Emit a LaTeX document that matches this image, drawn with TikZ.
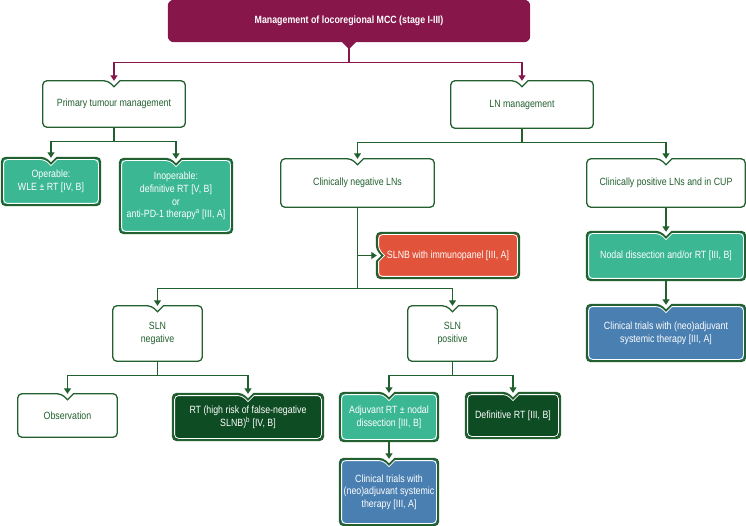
\documentclass[tikz,border=0pt]{standalone}
\usepackage{fontspec}
\setmainfont[FakeStretch=0.84]{Liberation Sans}
\usepackage{tikz}
\usetikzlibrary{backgrounds}
\usetikzlibrary{calc}
\usetikzlibrary{arrows.meta}

\definecolor{mccplum}{HTML}{87164A}
\definecolor{lngreen}{HTML}{22602F}
\definecolor{optgreen}{HTML}{3BB793}
\definecolor{rtgreen}{HTML}{0E4C23}
\definecolor{slnbred}{HTML}{E1533A}
\definecolor{trialblue}{HTML}{4A7FB1}

% box outline with a notch on top: node, inset
\newcommand{\topnotch}[2]{($(#1.south)+(0,-#2)$) [rounded corners=4pt] -- ($(#1.south west)+(#2,-#2)$) -- ($(#1.north west)+(#2,#2)$) -- ($(#1.north)+(-6,#2)$) [sharp corners] -- ($(#1.north)+(0,6+#2)$) -- ($(#1.north)+(6,#2)$) [rounded corners=4pt] -- ($(#1.north east)+(-#2,#2)$) -- ($(#1.south east)+(-#2,-#2)$) -- cycle}
% box outline with a notch on the left
\newcommand{\leftnotch}[2]{($(#1.north)+(0,#2)$) [rounded corners=4pt] -- ($(#1.north west)+(#2,#2)$) -- ($(#1.west)+(#2,-6)$) [sharp corners] -- ($(#1.west)+(6+#2,0)$) -- ($(#1.west)+(#2,6)$) [rounded corners=4pt] -- ($(#1.south west)+(#2,-#2)$) -- ($(#1.south east)+(-#2,-#2)$) -- ($(#1.north east)+(-#2,#2)$) -- cycle}

\tikzset{
  txt/.style={align=center, inner sep=0pt, font=\fontsize{10.5}{12.6}\selectfont},
  wtxt/.style={txt, text=lngreen},
  ctxt/.style={txt, text=white},
  sz/.style 2 args={minimum width=#1pt, minimum height=#2pt},
  arr/.style={->, draw=lngreen, line width=1.1pt},
  plumarr/.style={->, draw=mccplum, line width=1.1pt}
}

\begin{document}
\begin{tikzpicture}[x=1pt, y=-1pt, >={Triangle[width=7pt,length=5.5pt]}]
  \useasboundingbox (0,0) rectangle (746,526);

  \node[ctxt, sz={362}{42}, font=\fontsize{10.5}{12.6}\selectfont\bfseries] (top) at (349,21) {Management of locoregional MCC (stage I-III)};

  \node[wtxt, sz={142}{46}] (ptm) at (114,104) {Primary tumour management};
  \node[wtxt, sz={142}{47}] (lnm) at (522,104.5) {LN management};

  \node[ctxt, sz={98}{47}] (oper) at (51,181.5) {Operable:\\WLE ± RT [IV, B]};
  \node[ctxt, sz={112}{74}] (inop) at (176,196) {Inoperable:\\definitive RT [V, B]\\or\\anti-PD-1 therapy\textsuperscript{a} [III, A]};
  \node[wtxt, sz={153}{48}] (cneg) at (357.5,183) {Clinically negative LNs};
  \node[wtxt, sz={158}{48}] (cpos) at (666,183) {Clinically positive LNs and in CUP};

  \node[ctxt, sz={142}{45}] (slnb) at (448,255.5) {SLNB with immunopanel [III, A]};
  \node[ctxt, sz={158}{48}] (ndis) at (666,256) {Nodal dissection and/or RT [III, B]};
  \node[ctxt, sz={158}{56}] (ctr1) at (666,333) {Clinical trials with (neo)adjuvant\\systemic therapy [III, A]};

  \node[wtxt, sz={89}{55}] (slnneg) at (157.5,333.5) {SLN\\negative};
  \node[wtxt, sz={89}{55}] (slnpos) at (452.5,333.5) {SLN\\positive};

  \node[wtxt, sz={99}{43}] (obs) at (67.5,415.5) {Observation};
  \node[ctxt, sz={150}{46}] (rthr) at (248,417) {RT (high risk of false-negative\\SLNB)\textsuperscript{b} [IV, B]};
  \node[ctxt, sz={98}{48}] (adj) at (389,417) {Adjuvant RT ± nodal\\dissection [III, B]};
  \node[ctxt, sz={94}{45}] (defrt) at (513,415.5) {Definitive RT [III, B]};
  \node[ctxt, sz={98}{66}] (ctr2) at (389,492) {Clinical trials with\\(neo)adjuvant systemic\\therapy [III, A]};

  \begin{scope}[on background layer]
    \fill[mccplum, rounded corners=6pt] (top.north west) -- (top.north east) -- (top.south east) [sharp corners] -- ($(top.south)+(7,0)$) -- ($(top.south)+(0,7)$) -- ($(top.south)+(-7,0)$) [rounded corners=6pt] -- (top.south west) -- cycle;
    \foreach \n in {ptm,lnm,cneg,cpos,slnneg,slnpos,obs}
      \filldraw[fill=white, draw=lngreen, line width=1.3pt] \topnotch{\n}{0};
    \foreach \n/\c in {oper/optgreen,inop/optgreen,ndis/optgreen,adj/optgreen,rthr/rtgreen,defrt/rtgreen,ctr1/trialblue,ctr2/trialblue} {
      \filldraw[fill=\c, draw=lngreen, line width=2pt] \topnotch{\n}{0};
      \draw[white, line width=0.8pt] \topnotch{\n}{1.8};
    }
    \filldraw[fill=slnbred, draw=lngreen, line width=2pt] \leftnotch{slnb}{0};
    \draw[white, line width=0.8pt] \leftnotch{slnb}{1.8};
  \end{scope}

  % top -> primary tumour / LN
  \draw[plumarr] (top.south) -- ++(0,20) -| (ptm.north);
  \draw[plumarr] (top.south) -- ++(0,20) -| (lnm.north);
  % primary tumour
  \draw[arr] (ptm.south) -- ++(0,14) -| (oper.north);
  \draw[arr] (ptm.south) -- ++(0,14) -| (inop.north);
  % LN management
  \draw[arr] (lnm.south) -- ++(0,14) -| (cneg.north);
  \draw[arr] (lnm.south) -- ++(0,14) -| (cpos.north);
  % clinically negative
  \draw[arr] (cneg.south) |- (slnb.west);
  \draw[arr] (cneg.south) -- ++(0,81) -| (slnneg.north);
  \draw[arr] (cneg.south) -- ++(0,81) -| (slnpos.north);
  % clinically positive
  \draw[arr] (cpos) -- (ndis.north);
  \draw[arr] (ndis) -- (ctr1.north);
  % SLN negative / positive
  \draw[arr] (slnneg.south) -- ++(0,14) -| (obs.north);
  \draw[arr] (slnneg.south) -- ++(0,14) -| (rthr.north);
  \draw[arr] (slnpos.south) -- ++(0,14) -| (adj.north);
  \draw[arr] (slnpos.south) -- ++(0,14) -| (defrt.north);
  \draw[arr] (adj.south) -- (ctr2.north);
\end{tikzpicture}
\end{document}
